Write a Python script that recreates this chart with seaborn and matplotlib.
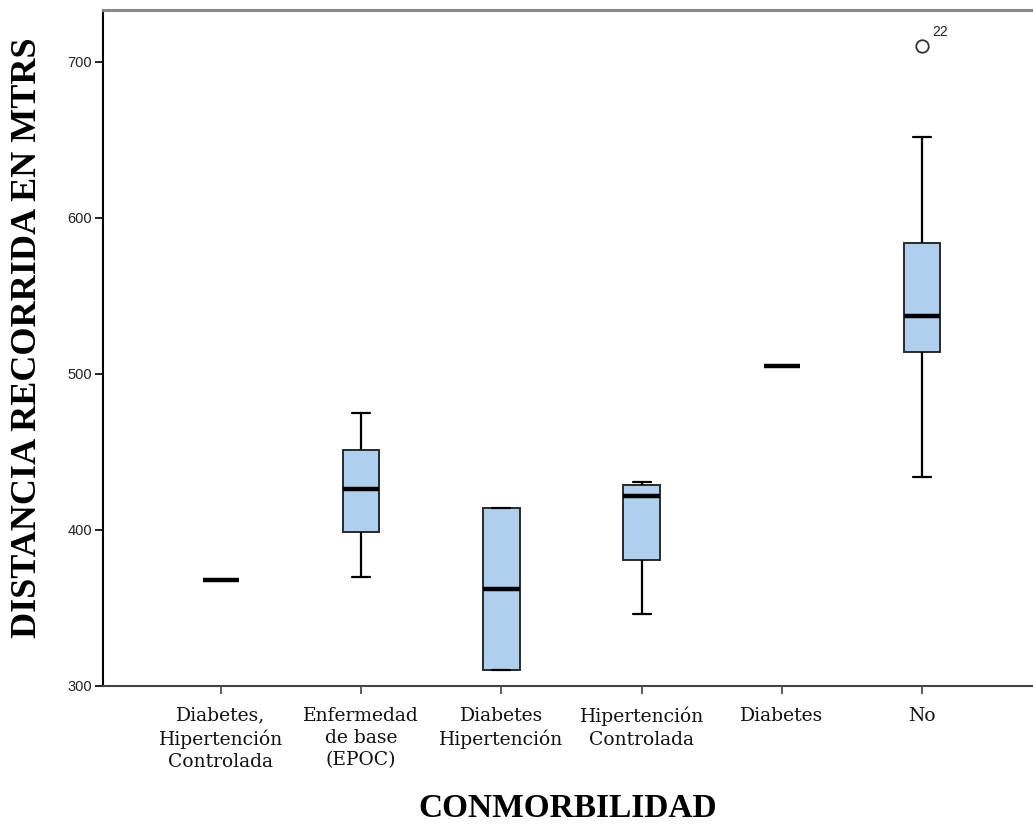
import pandas as pd
import numpy as np
import seaborn as sns
import matplotlib.pyplot as plt

# categories (x axis) and the values for each group
categories = ["Diabetes,\nHipertención\nControlada",
              "Enfermedad\nde base\n(EPOC)",
              "Diabetes\nHipertención",
              "Hipertención\nControlada",
              "Diabetes",
              "No"]

diab_hip_ctrl = [368]
epoc = [370, 399, 426, 451, 475]
diab_hip = [310, 310, 362, 414, 414]
hip_ctrl = [346, 381, 422, 429, 431]
diabetes = [505]
no_conm = [434, 480, 514, 525, 537, 560, 584, 652, 710]

outlier_value = 710
outlier_label = "22"

groups = [diab_hip_ctrl, epoc, diab_hip, hip_ctrl, diabetes, no_conm]
rows = []
for cat, vals in zip(categories, groups):
    for v in vals:
        rows.append({"CONMORBILIDAD": cat, "distancia": v})
df = pd.DataFrame(rows)

sns.set_style("white")
plt.rcParams["font.family"] = ["Liberation Sans", "DejaVu Sans"]
plt.rcParams["text.color"] = "black"

fig = plt.figure(figsize=(10.33, 8.27), dpi=100)
ax = fig.add_axes([0.0997, 0.1705, 0.9003, 0.8175])

sns.boxplot(data=df, x="CONMORBILIDAD", y="distancia", order=categories,
            width=0.26, color="#AECFEE", saturation=1, whis=1.5,
            linecolor="#2a2a2a", linewidth=1.4,
            medianprops=dict(color="black", linewidth=3.2),
            whiskerprops=dict(color="black", linewidth=1.6),
            capprops=dict(color="black", linewidth=1.6),
            flierprops=dict(marker="o", markerfacecolor="white",
                            markeredgecolor="#333333", markersize=9,
                            markeredgewidth=1.3),
            ax=ax)

ax.annotate(outlier_label, xy=(len(categories) - 1, outlier_value),
            xytext=(7, 5), textcoords="offset points",
            ha="left", va="bottom", fontsize=10, color="#222222")

ax.set_xlim(-0.84, 5.79)
ax.set_ylim(300, 733.3)
ax.set_yticks([300, 400, 500, 600, 700])

ax.spines["right"].set_visible(False)
ax.spines["left"].set_color("black")
ax.spines["left"].set_linewidth(1.5)
ax.spines["bottom"].set_color("#444444")
ax.spines["bottom"].set_linewidth(1.5)
ax.spines["top"].set_color("#888888")
ax.spines["top"].set_linewidth(2.2)

ax.tick_params(axis="y", direction="out", length=6, width=1.2, color="black",
               labelsize=10.5, labelcolor="#222222", pad=2, left=True)
ax.tick_params(axis="x", direction="out", length=6, width=1.2, color="#444444",
               labelsize=13.5, labelcolor="#111111", pad=9, bottom=True)
for lab in ax.get_xticklabels():
    lab.set_fontfamily(["DejaVu Serif"])
    lab.set_linespacing(1.3)

ax.set_xlabel("CONMORBILIDAD", fontsize=24, fontweight="bold", color="black",
              fontfamily=["Liberation Serif", "DejaVu Serif"])
ax.xaxis.set_label_coords(0.5, -0.158)
ax.set_ylabel("DISTANCIA RECORRIDA EN MTRS", fontsize=26, fontweight="bold",
              color="black", fontfamily=["Liberation Serif", "DejaVu Serif"])
ax.yaxis.set_label_coords(-0.0817, 0.515)
ax.yaxis.label.set_va("center")

fig.savefig("out.png", dpi=100)
